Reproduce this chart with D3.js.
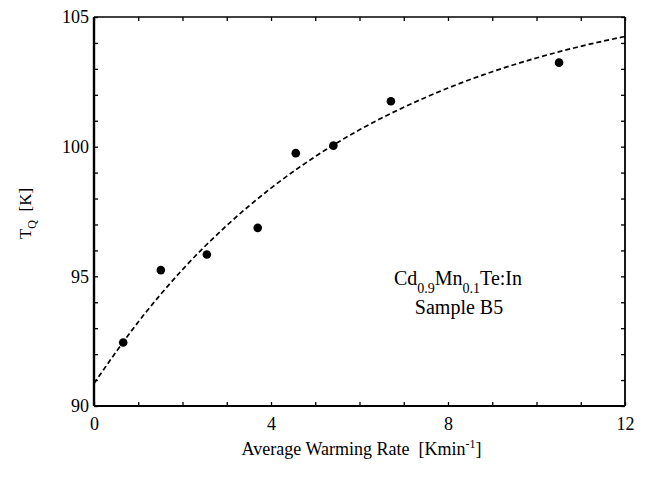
<!DOCTYPE html>
<html><head><meta charset="utf-8">
<script src="https://cdn.jsdelivr.net/npm/d3@7"></script>
<style>
body{margin:0;background:#fff}
text{font-family:"Liberation Serif","Times New Roman",serif;fill:#000}
</style>
</head><body><svg id="c" width="646" height="480"></svg>
<script>
// Measured points
const rateX = [0.66, 1.51, 2.55, 3.70, 4.56, 5.41, 6.71, 10.51];
const tempQ = [92.45, 95.24, 95.84, 96.87, 99.75, 100.04, 101.75, 103.24];
// Dashed fit curve
const fitX = [0, 1, 2, 3, 4, 5, 6, 7, 8, 9, 10, 11, 12];
const fitY = [90.87, 93.24, 95.26, 96.96, 98.40, 99.62, 100.65, 101.52, 102.26, 102.89, 103.42, 103.87, 104.25];
// Tick labels
const xTickLabels = [0, 4, 8, 12];
const yTickLabels = [90, 95, 100, 105];
const xMinorTicks = d3.range(0, 13, 1);
const yMinorTicks = d3.range(90, 106, 1);

const svg = d3.select("#c");
const L = 94, R = 625, T = 17, B = 406;
const x = d3.scaleLinear().domain([0, 12]).range([L, R]);
const y = d3.scaleLinear().domain([90, 105]).range([B, T]);

const fmtX = d => xTickLabels.includes(d) ? d : "";
const fmtY = d => yTickLabels.includes(d) ? d : "";

function style(g){
  g.select(".domain").remove();
  g.selectAll(".tick line").attr("stroke","#000").attr("stroke-width",1.3);
  g.selectAll(".tick text").attr("font-family","Liberation Serif, serif").attr("font-size",18).attr("fill","#000");
}

svg.append("g").attr("transform",`translate(0,${B})`)
  .call(d3.axisBottom(x).tickValues(xMinorTicks).tickFormat(fmtX).tickSizeInner(-4).tickSizeOuter(0).tickPadding(11))
  .call(style);
svg.append("g").attr("transform",`translate(0,${T})`)
  .call(d3.axisTop(x).tickValues(xMinorTicks).tickFormat("").tickSizeInner(-4).tickSizeOuter(0))
  .call(style);
svg.append("g").attr("transform",`translate(${L},0)`)
  .call(d3.axisLeft(y).tickValues(yMinorTicks).tickFormat(fmtY).tickSizeInner(-4).tickSizeOuter(0).tickPadding(5))
  .call(style);
svg.append("g").attr("transform",`translate(${R},0)`)
  .call(d3.axisRight(y).tickValues(yMinorTicks).tickFormat("").tickSizeInner(-4).tickSizeOuter(0))
  .call(style);

// frame
const frame = svg.append("g").attr("stroke","#000").attr("fill","none");
frame.append("line").attr("x1",L).attr("x2",R).attr("y1",T).attr("y2",T).attr("stroke-width",1.6);
frame.append("line").attr("x1",R).attr("x2",R).attr("y1",T).attr("y2",B).attr("stroke-width",1.8);
frame.append("line").attr("x1",L).attr("x2",R).attr("y1",B).attr("y2",B).attr("stroke-width",2.2);
frame.append("line").attr("x1",L).attr("x2",L).attr("y1",T).attr("y2",B).attr("stroke-width",2.4);

// fit curve
const fitData = fitX.map((v,i)=>[v,fitY[i]]);
svg.append("path").datum(fitData)
  .attr("fill","none").attr("stroke","#000").attr("stroke-width",1.7)
  .attr("stroke-dasharray","5,3")
  .attr("d", d3.line().x(d=>x(d[0])).y(d=>y(d[1])).curve(d3.curveMonotoneX));

// points
svg.append("g").selectAll("circle").data(rateX.map((v,i)=>[v,tempQ[i]])).join("circle")
  .attr("cx",d=>x(d[0])).attr("cy",d=>y(d[1])).attr("r",4.3).attr("fill","#000");

// axis titles
const xt = svg.append("text").attr("x",(L+R)/2+2).attr("y",455).attr("text-anchor","middle").attr("font-size",18);
xt.append("tspan").text("Average Warming Rate\u00A0\u00A0[Kmin");
xt.append("tspan").attr("font-size",12).attr("dy",-7).text("-1");
xt.append("tspan").attr("dy",7).text("]");

const yt = svg.append("text").attr("transform",`translate(31,${(T+B)/2+2}) rotate(-90)`).attr("text-anchor","middle").attr("font-size",17);
yt.append("tspan").text("T");
yt.append("tspan").attr("font-size",12).attr("dy",5).text("Q");
yt.append("tspan").attr("dy",-5).text("\u00A0\u00A0[K]");

// annotation
const a1 = svg.append("text").attr("x",458).attr("y",285).attr("text-anchor","middle").attr("font-size",20);
a1.append("tspan").text("Cd");
a1.append("tspan").attr("font-size",14).attr("dy",8).text("0.9");
a1.append("tspan").attr("dy",-8).text("Mn");
a1.append("tspan").attr("font-size",14).attr("dy",8).text("0.1");
a1.append("tspan").attr("dy",-8).text("Te:In");
svg.append("text").attr("x",459).attr("y",314).attr("text-anchor","middle").attr("font-size",20).text("Sample B5");
</script>
</body></html>
